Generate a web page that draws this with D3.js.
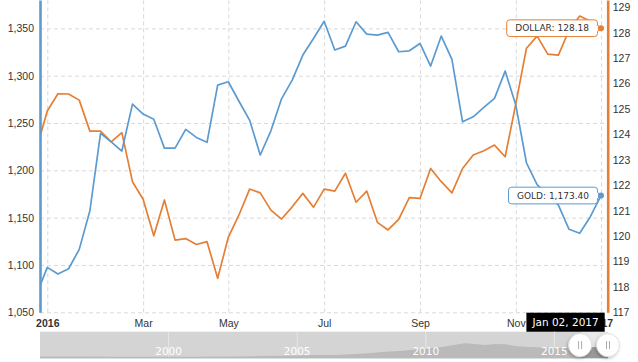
<!DOCTYPE html>
<html>
<head>
<meta charset="utf-8">
<script src="https://cdn.jsdelivr.net/npm/d3@7"></script>
<style>
body { margin: 0; background: #fff; }
svg { display: block; font-family: "DejaVu Sans", Verdana, sans-serif; }
</style>
</head>
<body>
<div id="chart"></div>
<script>
// weekly points, Mon Dec 28 2015 .. Mon Jan 02 2017
var firstWeek = new Date(2015, 11, 28);
var lastWeek = new Date(2017, 0, 2);

var goldPrices = [1068.8, 1097.5, 1090.4, 1096, 1116.5, 1157.3, 1239, 1230, 1220.4, 1270,
	1259.5, 1254, 1223.5, 1223.5, 1243.3, 1234.8, 1229.6, 1290.1, 1293.6, 1273,
	1253.1, 1216.2, 1241.8, 1275.6, 1295.4, 1321.8, 1339.4, 1357.5, 1327.1, 1331.3,
	1357, 1344, 1342.9, 1345.8, 1325.3, 1326.3, 1334.1, 1310.2, 1341.9, 1317.3,
	1251.3, 1256.6, 1266.5, 1276, 1304.9, 1269, 1208, 1185, 1174, 1163.3,
	1137.7, 1133.5, 1151, 1173.4];

var dollarPrices = [123.45, 124.92, 125.6, 125.59, 125.35, 124.13, 124.13, 123.71, 124.07, 122.14,
	121.45, 120.01, 121.42, 119.84, 119.9, 119.67, 119.78, 118.34, 119.95, 120.83,
	121.85, 121.7, 121.02, 120.67, 121.15, 121.68, 121.13, 121.85, 121.77, 122.47,
	121.33, 121.77, 120.54, 120.24, 120.66, 121.51, 121.48, 122.66, 122.14, 121.7,
	122.66, 123.19, 123.36, 123.58, 123.12, 125.2, 127.39, 127.87, 127.16, 127.12,
	128.1, 128.66, 128.45, 128.18];

var tickMonths = [new Date(2016, 0, 1), new Date(2016, 2, 1), new Date(2016, 4, 1), new Date(2016, 6, 1),
	new Date(2016, 8, 1), new Date(2016, 10, 1), new Date(2017, 0, 1)];
var goldTicks = [1050, 1100, 1150, 1200, 1250, 1300, 1350];
var dollarTicks = [117, 118, 119, 120, 121, 122, 123, 124, 125, 126, 127, 128, 129];

// navigator (long history)
var navYears = [1995, 1996.5, 1998, 1999.5, 2001, 2002.5, 2003.5, 2004.5, 2005.8, 2006.5, 2007.1, 2007.8,
	2008.4, 2009, 2009.7, 2010.2, 2010.7, 2011.1, 2011.5, 2011.9, 2012.3, 2012.7, 2013.1, 2013.5, 2013.8,
	2014.3, 2014.9, 2015.3, 2015.7, 2016.2, 2016.6, 2017.1];
var navValues = [2, 1.9, 1.8, 1.7, 1.8, 2.1, 2.4, 2.7, 3.5, 3.6, 4.2, 5.2,
	6.8, 7.6, 9.2, 10.4, 11.8, 13.6, 15.2, 14.4, 13.5, 14.6, 14.2, 12.6, 11.8,
	11.2, 10.2, 10.4, 10, 10.8, 11.4, 10.5];
var navYearTicks = [2000, 2005, 2010, 2015];
var navSelStart = 2016;

var goldColor = "#5b9bd1";
var dollarColor = "#e57f35";

var svgWidth = 638, svgHeight = 362;
var plot = {left: 40, right: 607.7, top: 0, bottom: 312.3};

var svg = d3.select("#chart").append("svg")
	.attr("width", svgWidth)
	.attr("height", svgHeight);

var dates = d3.timeMonday.range(firstWeek, d3.timeDay.offset(lastWeek, 1));

// ordinal style x: one slot per weekly point
var x = d3.scaleLinear().domain([0.315, 53.63]).range([plot.left, plot.right]);
var yGold = d3.scaleLinear().domain([1050, 1380]).range([plot.bottom, plot.top]);
var yDollar = d3.scaleLinear().domain([117, 129.29]).range([plot.bottom, plot.top]);

// tick = first data point in that month
var tickIdx = tickMonths.map(m => d3.bisectLeft(dates, m));

// grid
var gridY = svg.append("g")
	.attr("transform", `translate(${plot.left},0)`)
	.call(d3.axisLeft(yGold).tickValues(goldTicks).tickSize(-(plot.right - plot.left)).tickFormat(""));
gridY.select(".domain").remove();
gridY.selectAll("line").attr("stroke", "#d9d9d9").attr("stroke-dasharray", "4,3");

var gridX = svg.append("g")
	.attr("transform", `translate(0,${plot.bottom})`)
	.call(d3.axisBottom(x).tickValues(tickIdx).tickSize(-(plot.bottom - plot.top)).tickFormat(""));
gridX.select(".domain").remove();
gridX.selectAll("line").attr("stroke", "#d9d9d9").attr("stroke-dasharray", "4,3");

// clip
svg.append("clipPath").attr("id", "plotClip")
	.append("rect")
	.attr("x", plot.left).attr("y", plot.top)
	.attr("width", plot.right - plot.left).attr("height", plot.bottom - plot.top);

var lineGold = d3.line().x((d, i) => x(i)).y(d => yGold(d));
var lineDollar = d3.line().x((d, i) => x(i)).y(d => yDollar(d));

var lines = svg.append("g").attr("clip-path", "url(#plotClip)");
lines.append("path").datum(dollarPrices)
	.attr("d", lineDollar)
	.attr("fill", "none").attr("stroke", dollarColor).attr("stroke-width", 1.7)
	.attr("stroke-linejoin", "round");
lines.append("path").datum(goldPrices)
	.attr("d", lineGold)
	.attr("fill", "none").attr("stroke", goldColor).attr("stroke-width", 1.7)
	.attr("stroke-linejoin", "round");

// axes
var leftAxis = svg.append("g")
	.attr("transform", `translate(${plot.left},0)`)
	.call(d3.axisLeft(yGold).tickValues(goldTicks).tickSize(0).tickSizeOuter(0).tickPadding(6).tickFormat(d3.format(",")));
leftAxis.select(".domain").attr("stroke", goldColor).attr("stroke-width", 2.6);
leftAxis.selectAll("text").attr("fill", "#333").style("font-size", "10.5px");

var rightAxis = svg.append("g")
	.attr("transform", `translate(${plot.right},0)`)
	.call(d3.axisRight(yDollar).tickValues(dollarTicks).tickSize(0).tickSizeOuter(0).tickPadding(5));
rightAxis.select(".domain").attr("stroke", dollarColor).attr("stroke-width", 2.6);
rightAxis.selectAll("text").attr("fill", "#333").style("font-size", "10.5px");

var bottomAxis = svg.append("g")
	.attr("transform", `translate(0,${plot.bottom})`)
	.call(d3.axisBottom(x).tickValues(tickIdx).tickSize(0).tickPadding(7)
		.tickFormat(i => {
			var d = dates[i];
			return d.getMonth() === 0 ? d3.timeFormat("%Y")(d) : d3.timeFormat("%b")(d);
		}));
bottomAxis.select(".domain").remove();
bottomAxis.selectAll("text")
	.attr("fill", "#333")
	.style("font-size", "10.5px")
	.style("font-weight", i => dates[i].getMonth() === 0 ? "bold" : "normal");

// hover markers + callouts on last point
var lastI = dates.length - 1;
var px = x(lastI);

function callout(g, label, color, py) {
	var t = g.append("text")
		.attr("x", 0).attr("y", py)
		.attr("dy", "0.35em")
		.attr("text-anchor", "middle")
		.style("font-size", "9px")
		.attr("fill", "#333")
		.text(label);
	var w = t.node().getComputedTextLength() + 17;
	var h = 16.7;
	var right = px - 3.5, left = right - w, top = py - h / 2, r = 3;
	var p = `M${left + r},${top} H${right - r} Q${right},${top} ${right},${top + r}` +
		` V${py - 3} L${px},${py} L${right},${py + 3}` +
		` V${top + h - r} Q${right},${top + h} ${right - r},${top + h}` +
		` H${left + r} Q${left},${top + h} ${left},${top + h - r}` +
		` V${top + r} Q${left},${top} ${left + r},${top} Z`;
	g.insert("path", "text")
		.attr("d", p)
		.attr("fill", "rgba(255,255,255,0.92)")
		.attr("stroke", color).attr("stroke-width", 1);
	t.attr("x", (left + right) / 2);
	g.append("circle")
		.attr("cx", px).attr("cy", py).attr("r", 3)
		.attr("fill", color);
}

callout(svg.append("g"), "DOLLAR: " + d3.format(".2f")(dollarPrices[lastI]), dollarColor, yDollar(dollarPrices[lastI]));
callout(svg.append("g"), "GOLD: " + d3.format(",.2f")(goldPrices[lastI]), goldColor, yGold(goldPrices[lastI]));

// date label under the crosshair
var dateG = svg.append("g");
var dateText = dateG.append("text")
	.attr("y", plot.bottom + 10.5)
	.attr("dy", "0.35em")
	.attr("text-anchor", "middle")
	.attr("fill", "#fff")
	.style("font-size", "10.5px")
	.text(d3.timeFormat("%b %d, %Y")(dates[lastI]));
var dw = dateText.node().getComputedTextLength() + 12;
var dRight = px + 3.7;
dateG.insert("rect", "text")
	.attr("x", dRight - dw).attr("y", plot.bottom + 0.4)
	.attr("width", dw).attr("height", 21)
	.attr("fill", "#000");
dateText.attr("x", dRight - dw / 2);

// navigator
var nav = {left: 40, right: 608, top: 331.7, bottom: 358.5};
var navX = d3.scaleLinear().domain([1995, 2017.085]).range([nav.left, nav.right]);
var navY = d3.scaleLinear().domain([0, 26.8]).range([nav.bottom, nav.top]);
var selX = navX(navSelStart);

var navG = svg.append("g");
navG.append("rect")
	.attr("x", nav.left).attr("y", nav.top)
	.attr("width", selX - nav.left).attr("height", nav.bottom - nav.top)
	.attr("fill", "#d4d4d4");
navG.append("rect")
	.attr("x", selX).attr("y", nav.top)
	.attr("width", nav.right - selX).attr("height", nav.bottom - nav.top)
	.attr("fill", "#e8e8e8");

navG.selectAll(".navline")
	.data(navYearTicks)
	.enter()
	.append("line")
	.attr("x1", d => navX(d)).attr("x2", d => navX(d))
	.attr("y1", nav.top).attr("y2", nav.bottom)
	.attr("stroke", "#e6e6e6");

var navArea = d3.area()
	.x((d, i) => navX(navYears[i]))
	.y0(nav.bottom)
	.y1(d => navY(d));

svg.append("clipPath").attr("id", "maskClip")
	.append("rect").attr("x", nav.left).attr("y", nav.top)
	.attr("width", selX - nav.left).attr("height", nav.bottom - nav.top);
svg.append("clipPath").attr("id", "selClip")
	.append("rect").attr("x", selX).attr("y", nav.top)
	.attr("width", nav.right - selX).attr("height", nav.bottom - nav.top);

navG.append("path").datum(navValues)
	.attr("d", navArea)
	.attr("clip-path", "url(#maskClip)")
	.attr("fill", "#bababa");
navG.append("path").datum(navValues)
	.attr("d", navArea)
	.attr("clip-path", "url(#selClip)")
	.attr("fill", "#999");

navG.selectAll(".navlabel")
	.data(navYearTicks)
	.enter()
	.append("text")
	.attr("x", d => navX(d))
	.attr("y", 351.7)
	.attr("dy", "0.35em")
	.attr("text-anchor", "middle")
	.attr("fill", "#fff")
	.style("font-size", "10.5px")
	.text(d => d);

// handles
var defs = svg.append("defs");
var shadow = defs.append("filter").attr("id", "hShadow").attr("x", "-50%").attr("y", "-50%").attr("width", "200%").attr("height", "200%");
shadow.append("feDropShadow").attr("dx", -1).attr("dy", 1.5).attr("stdDeviation", 1.5).attr("flood-color", "#000").attr("flood-opacity", 0.25);

[selX, nav.right].forEach(function(hx) {
	var hy = (nav.top + nav.bottom) / 2;
	navG.append("circle")
		.attr("cx", hx).attr("cy", hy).attr("r", 11.5)
		.attr("fill", "#fff").attr("stroke", "#e0e0e0")
		.attr("filter", "url(#hShadow)");
	[-1.5, 1.5].forEach(function(off) {
		navG.append("line")
			.attr("x1", hx + off).attr("x2", hx + off)
			.attr("y1", hy - 4).attr("y2", hy + 4)
			.attr("stroke", "#aaa");
	});
});
</script>
</body>
</html>
